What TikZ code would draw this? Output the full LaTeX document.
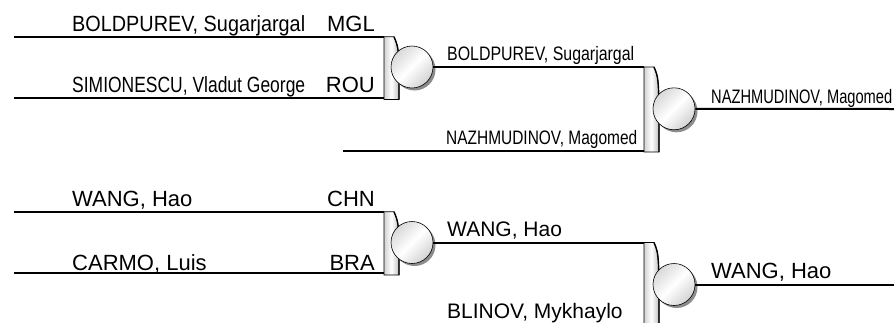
\documentclass[tikz,border=0pt]{standalone}
\usepackage{graphicx}
\usepackage{fontspec}
\setmainfont{Liberation Sans}
\usetikzlibrary{shadows}
\newcommand\joinbox[3]{%
  \path[brk] (#1,#2) -- (#1+10,#2) .. controls (#1+15,#2+12) .. (#1+15,#3) -- (#1,#3) -- cycle;
  \draw[line width=1.4pt] (#1+10,#2) .. controls (#1+15,#2+12) .. (#1+15,#3);}
\newcommand\squeeze[2]{\resizebox{#1}{\height}{#2}}
\begin{document}
\begin{tikzpicture}
[x=1pt, y=-1pt,
 every node/.style={inner sep=0pt, anchor=base west},
 entry/.style={font=\fontsize{22}{26}\selectfont},
 winner/.style={font=\fontsize{21}{25}\selectfont},
 small/.style={font=\fontsize{19.5}{23}\selectfont},
 nat/.style={font=\fontsize{22}{26}\selectfont, anchor=base east},
 wire/.style={line width=2pt},
 brk/.style={draw=black, line width=.6pt, left color=gray!35, right color=gray!50, middle color=white},
 bout/.style={circle, anchor=center, draw=black, line width=.6pt, minimum size=42pt,
   top color=gray!30, bottom color=gray!35, middle color=white, shading angle=45,
   drop shadow={shadow xshift=2.5pt, shadow yshift=-2.5pt, fill=black!45, opacity=1}}]
\useasboundingbox (0,0) rectangle (894,322);
\clip (0,0) rectangle (894,322);
\coordinate (r1aw) at (14,36.7);
\coordinate (r1ae) at (384,36.7);
\coordinate (r1bw) at (14,97.7);
\coordinate (r1be) at (384,97.7);
\coordinate (r2ae) at (644,67);
\coordinate (r2bw) at (343,150.7);
\coordinate (r2be) at (644,150.7);
\coordinate (f1e) at (894,109);
\coordinate (r1cw) at (14,211.7);
\coordinate (r1ce) at (384,211.7);
\coordinate (r1dw) at (14,273.3);
\coordinate (r1de) at (384,273.3);
\coordinate (r2ce) at (644,242.5);
\coordinate (r2dw) at (343,326.5);
\coordinate (r2de) at (644,326.5);
\coordinate (f2e) at (894,284.5);
\node[entry] (boldpurev) at (72,31.7) {\squeeze{233pt}{BOLDPUREV, Sugarjargal}};
\node[nat] (mgl) at (375,31.7) {MGL};
\node[entry] (simionescu) at (72,92.3) {\squeeze{233pt}{SIMIONESCU, Vladut George}};
\node[nat] (rou) at (375,92.3) {ROU};
\node[small] (boldpurev2) at (447,60) {\squeeze{187pt}{BOLDPUREV, Sugarjargal}};
\node[small] (nazhmudinov) at (446,144.3) {\squeeze{191pt}{NAZHMUDINOV, Magomed}};
\node[small] (nazhmudinov2) at (711,103.3) {\squeeze{181pt}{NAZHMUDINOV, Magomed}};
\node[entry] (wang) at (72,206.7) {WANG, Hao};
\node[nat] (chn) at (375,206.7) {CHN};
\node[entry] (carmo) at (72,270.7) {CARMO, Luis};
\node[nat] (bra) at (375,270.7) {BRA};
\node[winner] (wang2) at (447,236.7) {WANG, Hao};
\node[winner] (blinov) at (447,318.3) {BLINOV, Mykhaylo};
\node[entry] (wang3) at (711,278.3) {WANG, Hao};
\draw[wire] (r1aw) -- (r1ae);
\draw[wire] (r1bw) -- (r1be);
\draw[wire] (r2bw) -- (r2be);
\draw[wire] (r1cw) -- (r1ce);
\draw[wire] (r1dw) -- (r1de);
\draw[wire] (r2dw) -- (r2de);
\joinbox{384}{36.7}{99.5}
\joinbox{644}{67}{152}
\joinbox{384}{211.7}{275}
\joinbox{644}{242.5}{328}
\node[bout] (m1) at (412,67) {};
\node[bout] (m2) at (674,108.8) {};
\node[bout] (m3) at (412,242.5) {};
\node[bout] (m4) at (674,284.5) {};
\draw[wire] (m1) -- (r2ae);
\draw[wire] (m2) -- (f1e);
\draw[wire] (m3) -- (r2ce);
\draw[wire] (m4) -- (f2e);
\end{tikzpicture}
\end{document}
